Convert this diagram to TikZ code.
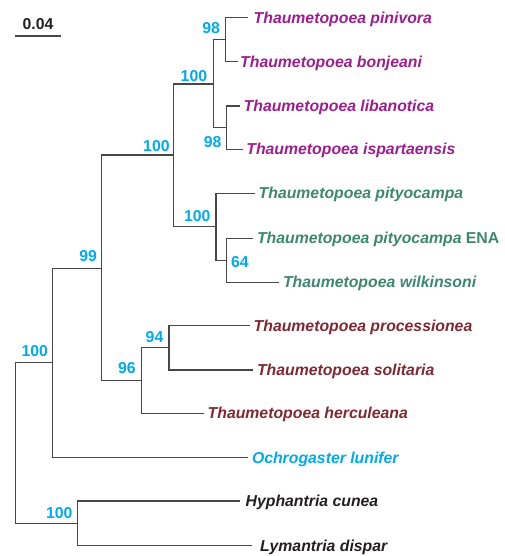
\documentclass[tikz,border=0pt]{standalone}
\usepackage{fontspec}
\setmainfont{Liberation Sans}
\usepackage{tikz}
\usetikzlibrary{positioning}
\definecolor{bootblue}{RGB}{0,170,235}
\definecolor{clpurple}{RGB}{155,30,140}
\definecolor{clgreen}{RGB}{60,135,110}
\definecolor{clred}{RGB}{125,40,50}
\definecolor{clblack}{RGB}{35,31,32}
\def\treefont{\fontsize{15.8}{18}\selectfont}
\tikzset{branch/.style={draw=black!72, line width=1.3pt}}
\tikzset{leaf/.style={anchor=base west, inner sep=0pt, xshift=3.5pt, yshift=-5.5pt,
  font=\treefont\bfseries\itshape}}
\tikzset{boot/.style={inner sep=0pt, text=bootblue, font=\treefont\bfseries}}

\begin{document}
\begin{tikzpicture}[x=1pt, y=-1pt]
  \useasboundingbox (0,0) rectangle (505,556);
  % scale bar
  \coordinate (sb1) at (15,36);
  \coordinate (sb2) at (61,36);
  \draw[branch] (sb1) -- node[boot, text=clblack, above=6pt] (sbl) {0.04} (sb2);
  % internal nodes
  \coordinate (root) at (15.7,443);
  \coordinate (all) at (52.7,362.7);
  \coordinate (thau) at (101.7,268.3);
  \coordinate (pg) at (173.3,155);
  \coordinate (purp) at (213.3,84);
  \coordinate (pb) at (225.7,39.7);
  \coordinate (li) at (226.7,127.7);
  \coordinate (green) at (216,226.7);
  \coordinate (ew) at (226.7,260.3);
  \coordinate (psh) at (141.3,380.7);
  \coordinate (ps) at (169,347.7);
  \coordinate (out) at (77.7,523.3);
  % tips
  \coordinate (pin) at (248,17.7);
  \coordinate (bon) at (238,61.7);
  \coordinate (lib) at (240,106);
  \coordinate (isp) at (242.7,149.3);
  \coordinate (pit) at (255,193.3);
  \coordinate (ena) at (253.3,238.3);
  \coordinate (wil) at (279.3,282.3);
  \coordinate (pro) at (250,325.7);
  \coordinate (sol) at (253.3,370);
  \coordinate (her) at (204,413.3);
  \coordinate (och) at (248.3,457.7);
  \coordinate (hyp) at (240,501);
  \coordinate (lym) at (252.3,545.7);
  % branches
  \draw[branch] (root) |- (all);
  \draw[branch] (root) |- (out);
  \draw[branch] (all) |- (thau);
  \draw[branch] (all) |- (och);
  \draw[branch] (thau) |- (pg);
  \draw[branch] (thau) |- (psh);
  \draw[branch] (pg) |- (purp);
  \draw[branch] (pg) |- (green);
  \draw[branch] (purp) |- (pb);
  \draw[branch] (purp) |- (li);
  \draw[branch] (pb) |- (pin);
  \draw[branch] (pb) |- (bon);
  \draw[branch] (li) |- (lib);
  \draw[branch] (li) |- (isp);
  \draw[branch] (green) |- (pit);
  \draw[branch] (green) |- (ew);
  \draw[branch] (ew) |- (ena);
  \draw[branch] (ew) |- (wil);
  \draw[branch] (psh) |- (ps);
  \draw[branch] (psh) |- (her);
  \draw[branch] (ps) |- (pro);
  \draw[branch] (ps) |- (sol);
  \draw[branch] (out) |- (hyp);
  \draw[branch] (out) |- (lym);
  % tip labels
  \node[leaf, text=clpurple, xshift=2pt] (pin-t) at (pin) {Thaumetopoea pinivora};
  \node[leaf, text=clpurple, xshift=-1.5pt] (bon-t) at (bon) {Thaumetopoea bonjeani};
  \node[leaf, text=clpurple] (lib-t) at (lib) {Thaumetopoea libanotica};
  \node[leaf, text=clpurple] (isp-t) at (isp) {Thaumetopoea ispartaensis};
  \node[leaf, text=clgreen] (pit-t) at (pit) {Thaumetopoea pityocampa};
  \node[leaf, text=clgreen] (ena-t) at (ena) {Thaumetopoea pityocampa \textup{ENA}};
  \node[leaf, text=clgreen] (wil-t) at (wil) {Thaumetopoea wilkinsoni};
  \node[leaf, text=clred] (pro-t) at (pro) {Thaumetopoea processionea};
  \node[leaf, text=clred] (sol-t) at (sol) {Thaumetopoea solitaria};
  \node[leaf, text=clred] (her-t) at (her) {Thaumetopoea herculeana};
  \node[leaf, text=bootblue] (och-t) at (och) {Ochrogaster lunifer};
  \node[leaf, text=clblack, xshift=2pt] (hyp-t) at (hyp) {Hyphantria cunea};
  \node[leaf, text=clblack, xshift=4pt] (lym-t) at (lym) {Lymantria dispar};
  % bootstrap values
  \node[boot, above left=5.5pt and 4.5pt of all] (all-b) {100};
  \node[boot, above left=6pt and 4.5pt of thau] (thau-b) {99};
  \node[boot, above left=3.5pt and 3.5pt of pg] (pg-b) {100};
  \node[boot, above left=2.5pt and 6pt of purp] (purp-b) {100};
  \node[boot, above left=5.5pt and 5.5pt of pb] (pb-b) {98};
  \node[boot, below left=9pt and 5pt of li] (li-b) {98};
  \node[boot, above left=5pt and 5.3pt of green] (green-b) {100};
  \node[boot, right=4.3pt of ew, yshift=-1.5pt] (ew-b) {64};
  \node[boot, above left=6.5pt and 5.5pt of psh] (psh-b) {96};
  \node[boot, above left=4.5pt and 5.5pt of ps] (ps-b) {94};
  \node[boot, above left=4.5pt and 5pt of out] (out-b) {100};
\end{tikzpicture}
\end{document}
